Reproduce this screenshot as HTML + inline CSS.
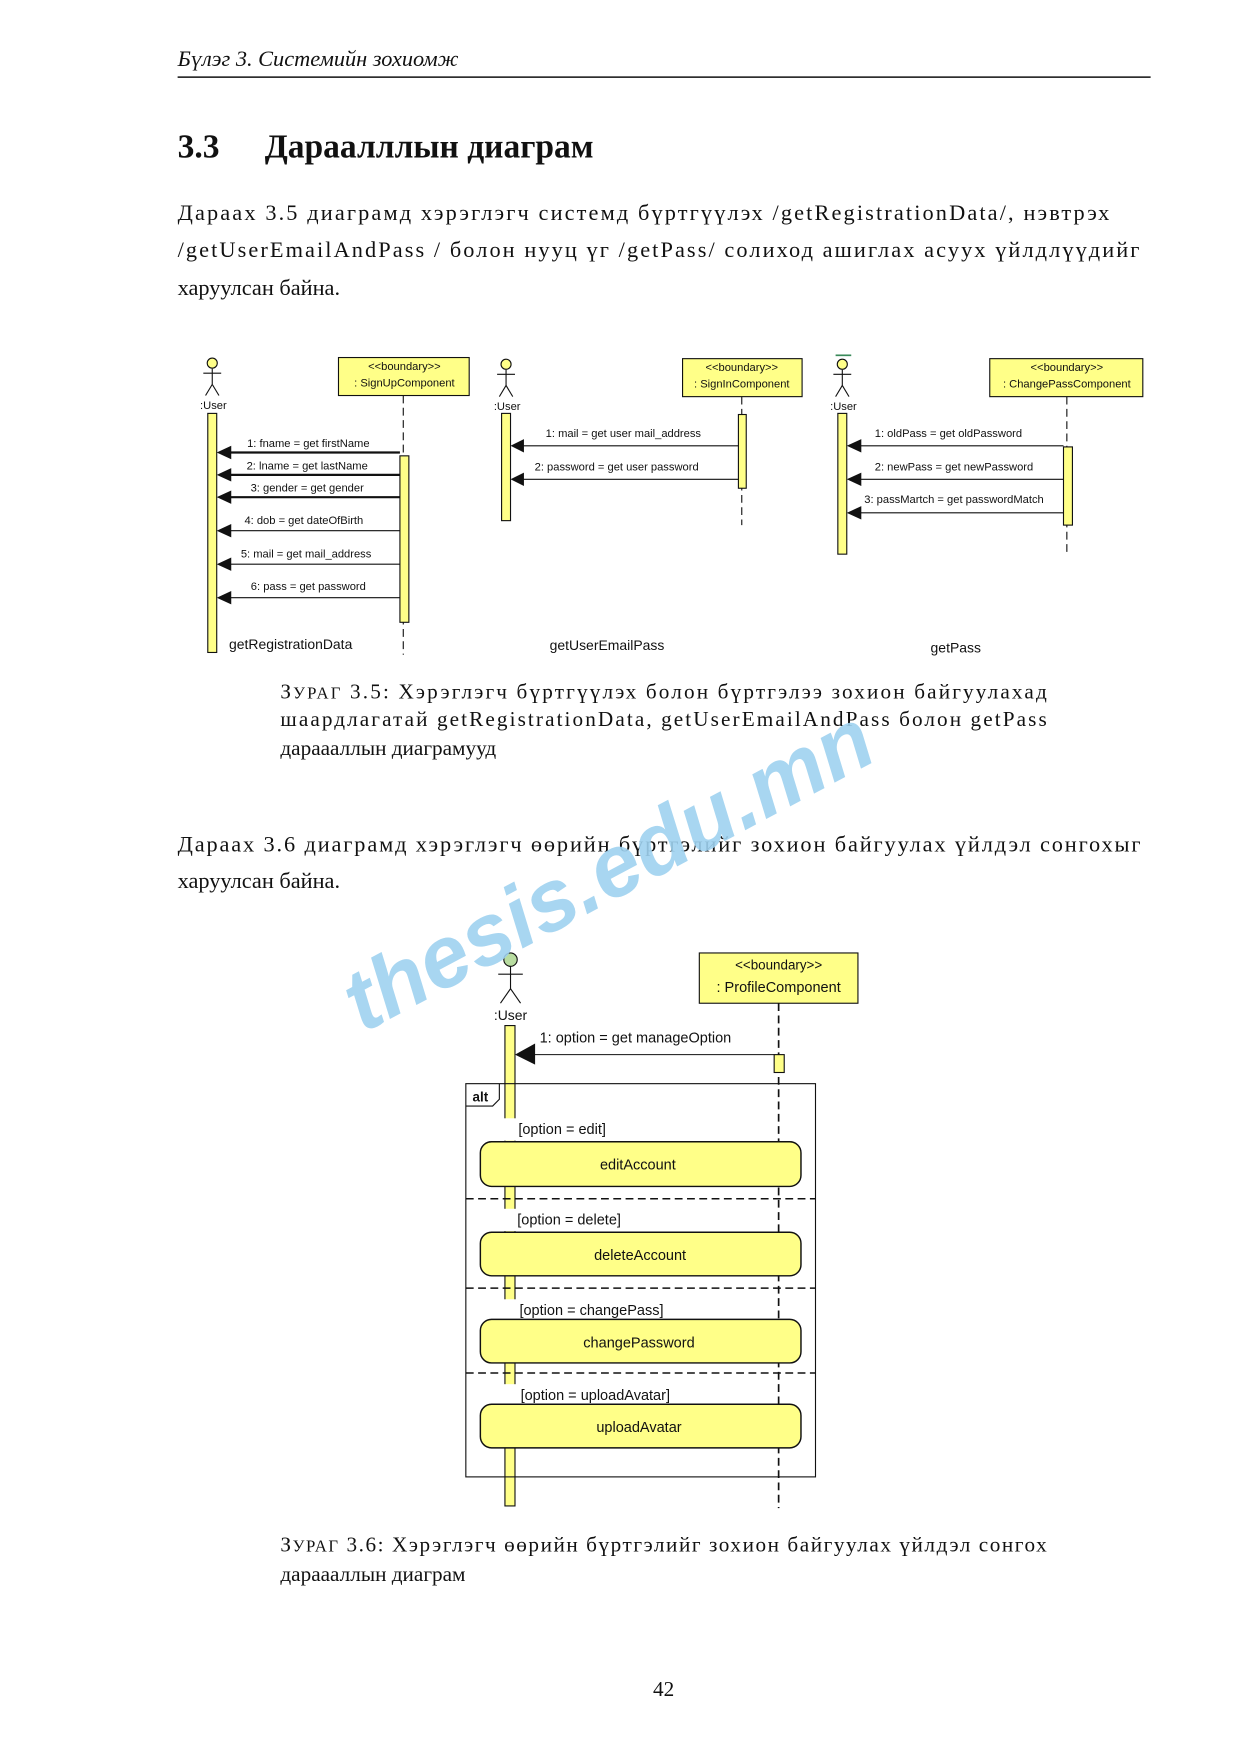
<!DOCTYPE html>
<html><head><meta charset="utf-8"><style>
html,body{margin:0;padding:0;background:#fff;}
svg{display:block;}
.s{font-family:"Liberation Serif","DejaVu Serif",serif;fill:#111;}
.a{font-family:"Liberation Sans","DejaVu Sans",sans-serif;fill:#111;}
</style></head><body>
<svg width="1240" height="1754" viewBox="0 0 1110 1570" xmlns="http://www.w3.org/2000/svg">
<rect width="1110" height="1570" fill="#fff"/>
<!-- header -->
<text class="s" x="159" y="59" font-size="20" font-style="italic">Бүлэг 3.  Системийн зохиомж</text>
<line x1="159" y1="69" x2="1030" y2="69" stroke="#111" stroke-width="1.3"/>
<text class="s" x="159" y="141" font-size="30" font-weight="bold">3.3</text>
<text class="s" x="237" y="141" font-size="30" font-weight="bold">Дараалллын диаграм</text>
<text class="s" x="159" y="197" font-size="20" textLength="834" lengthAdjust="spacing">Дараах  3.5 диаграмд хэрэглэгч системд бүртгүүлэх /getRegistrationData/, нэвтрэх</text>
<text class="s" x="159" y="230" font-size="20" textLength="861" lengthAdjust="spacing">/getUserEmailAndPass / болон нууц үг /getPass/ солиход ашиглах асуух үйлдлүүдийг</text>
<text class="s" x="159" y="264" font-size="20">харуулсан байна.</text>

<!-- Diagram 1 -->
<g stroke="#111" fill="none" stroke-width="1">
<circle cx="190" cy="325" r="4.5" fill="#ffff88"/>
<line x1="190" y1="330" x2="190" y2="344"/><line x1="182" y1="334" x2="198" y2="334"/>
<line x1="190" y1="344" x2="184" y2="354"/><line x1="190" y1="344" x2="196" y2="354"/>
<circle cx="453" cy="326" r="4.5" fill="#ffff88"/>
<line x1="453" y1="331" x2="453" y2="345"/><line x1="445" y1="335" x2="461" y2="335"/>
<line x1="453" y1="345" x2="447" y2="355"/><line x1="453" y1="345" x2="459" y2="355"/>
<circle cx="754" cy="326" r="4.5" fill="#ffff88"/>
<line x1="754" y1="331" x2="754" y2="345"/><line x1="746" y1="335" x2="762" y2="335"/>
<line x1="754" y1="345" x2="748" y2="355"/><line x1="754" y1="345" x2="760" y2="355"/>
</g>
<line x1="748" y1="318" x2="762" y2="318" stroke="#3a8a5a" stroke-width="1.5"/>
<text class="a" x="191" y="366" font-size="10" text-anchor="middle">:User</text>
<text class="a" x="454" y="367" font-size="10" text-anchor="middle">:User</text>
<text class="a" x="755" y="367" font-size="10" text-anchor="middle">:User</text>
<g stroke="#111" stroke-width="1" fill="#ffff88">
<rect x="303" y="320" width="117" height="34"/>
<rect x="611" y="321" width="107" height="34"/>
<rect x="886" y="321" width="137" height="34"/>
</g>
<g class="a" font-size="10" text-anchor="middle">
<text x="362" y="331">&lt;&lt;boundary&gt;&gt;</text><text x="362" y="346">: SignUpComponent</text>
<text x="664" y="332">&lt;&lt;boundary&gt;&gt;</text><text x="664" y="347">: SignInComponent</text>
<text x="955" y="332">&lt;&lt;boundary&gt;&gt;</text><text x="955" y="347">: ChangePassComponent</text>
</g>
<g stroke="#111" stroke-width="1" stroke-dasharray="7,4">
<line x1="361" y1="354" x2="361" y2="586"/>
<line x1="664" y1="355" x2="664" y2="470"/>
<line x1="955" y1="355" x2="955" y2="498"/>
</g>
<g stroke="#111" stroke-width="1" fill="#ffff88">
<rect x="186" y="370" width="8" height="214"/>
<rect x="358" y="408" width="8" height="149"/>
<rect x="449" y="370" width="8" height="96"/>
<rect x="661" y="371" width="7" height="66"/>
<rect x="750" y="370" width="8" height="126"/>
<rect x="952" y="400" width="8" height="70"/>
</g>
<g stroke="#111">
<line x1="358" y1="405" x2="200" y2="405" stroke-width="2"/>
<line x1="358" y1="425" x2="200" y2="425" stroke-width="2"/>
<line x1="358" y1="445" x2="200" y2="445" stroke-width="2"/>
<line x1="358" y1="475" x2="200" y2="475"/>
<line x1="358" y1="505" x2="200" y2="505"/>
<line x1="358" y1="535" x2="200" y2="535"/>
<line x1="661" y1="399" x2="462" y2="399"/>
<line x1="661" y1="429" x2="462" y2="429"/>
<line x1="952" y1="399" x2="764" y2="399"/>
<line x1="952" y1="429" x2="764" y2="429"/>
<line x1="952" y1="459" x2="764" y2="459"/>
</g>
<g fill="#111">
<path d="M194 405 L207 399 L207 411Z"/><path d="M194 425 L207 419 L207 431Z"/><path d="M194 445 L207 439 L207 451Z"/>
<path d="M194 475 L207 469 L207 481Z"/><path d="M194 505 L207 499 L207 511Z"/><path d="M194 535 L207 529 L207 541Z"/>
<path d="M457 399 L469 393 L469 405Z"/><path d="M457 429 L469 423 L469 435Z"/>
<path d="M758 399 L771 393 L771 405Z"/><path d="M758 429 L771 423 L771 435Z"/><path d="M758 459 L771 453 L771 465Z"/>
</g>
<g class="a" font-size="10" text-anchor="middle">
<text x="276" y="400">1: fname = get firstName</text>
<text x="275" y="420">2: lname = get lastName</text>
<text x="275" y="440">3: gender = get gender</text>
<text x="272" y="469">4: dob = get dateOfBirth</text>
<text x="274" y="499">5:  mail = get mail_address</text>
<text x="276" y="528">6: pass = get password</text>
<text x="558" y="391">1: mail = get user mail_address</text>
<text x="552" y="421">2: password = get user password</text>
<text x="849" y="391">1: oldPass = get oldPassword</text>
<text x="854" y="421">2: newPass = get newPassword</text>
<text x="854" y="450">3: passMartch = get passwordMatch</text>
</g>
<g class="a" font-size="12.5">
<text x="205" y="581">getRegistrationData</text>
<text x="492" y="582">getUserEmailPass</text>
<text x="833" y="584">getPass</text>
</g>

<!-- caption 1 -->
<text class="s" x="251" y="625" font-size="19" textLength="686" lengthAdjust="spacing">З<tspan font-size="15">УРАГ</tspan> 3.5: Хэрэглэгч бүртгүүлэх болон бүртгэлээ зохион байгуулахад</text>
<text class="s" x="251" y="650" font-size="19" textLength="686" lengthAdjust="spacing">шаардлагатай getRegistrationData, getUserEmailAndPass болон getPass</text>
<text class="s" x="251" y="676" font-size="19">дараааллын диаграмууд</text>

<text class="s" x="159" y="762" font-size="20" textLength="862" lengthAdjust="spacing">Дараах 3.6 диаграмд хэрэглэгч өөрийн бүртгэлийг зохион байгуулах үйлдэл сонгохыг</text>
<text class="s" x="159" y="795" font-size="20">харуулсан байна.</text>

<!-- Diagram 2 -->
<circle cx="457" cy="859" r="6" fill="#b8dca0" stroke="#111"/>
<g stroke="#111" fill="none">
<line x1="457" y1="865" x2="457" y2="885"/><line x1="446" y1="872" x2="468" y2="872"/>
<line x1="457" y1="885" x2="448" y2="898"/><line x1="457" y1="885" x2="466" y2="898"/>
</g>
<text class="a" x="457" y="913" font-size="12.5" text-anchor="middle">:User</text>
<rect x="626" y="853" width="142" height="45" fill="#ffff88" stroke="#111"/>
<text class="a" x="697" y="868" font-size="12" text-anchor="middle">&lt;&lt;boundary&gt;&gt;</text>
<text class="a" x="697" y="888" font-size="13" text-anchor="middle">: ProfileComponent</text>
<line x1="697" y1="898" x2="697" y2="1350" stroke="#111" stroke-width="1.5" stroke-dasharray="7,4"/>
<rect x="452" y="918" width="9" height="430" fill="#ffff88" stroke="#111"/>
<rect x="693" y="944" width="9" height="16" fill="#ffff88" stroke="#111"/>
<line x1="693" y1="944" x2="470" y2="944" stroke="#111"/>
<path d="M461 944 L479 934 L479 953Z" fill="#111"/>
<text class="a" x="483" y="933" font-size="13">1: option = get manageOption</text>
<rect x="417" y="970" width="313" height="352" fill="none" stroke="#111"/>
<path d="M417 990 L441 990 L447 984 L447 970" fill="none" stroke="#111"/>
<text class="a" x="423" y="986" font-size="12" font-weight="bold">alt</text>
<g stroke="#111" stroke-width="1.3" stroke-dasharray="7,4">
<line x1="417" y1="1073" x2="730" y2="1073"/>
<line x1="417" y1="1153" x2="730" y2="1153"/>
<line x1="417" y1="1229" x2="730" y2="1229"/>
</g>
<g fill="#fff">
<rect x="451" y="1001" width="12" height="20"/><rect x="451" y="1082" width="12" height="20"/>
<rect x="451" y="1163" width="12" height="18"/><rect x="451" y="1239" width="12" height="18"/>
</g>
<g class="a" font-size="13">
<text x="464" y="1015">[option = edit]</text>
<text x="463" y="1096">[option = delete]</text>
<text x="465" y="1177">[option = changePass]</text>
<text x="466" y="1253">[option = uploadAvatar]</text>
</g>
<g fill="#ffff88" stroke="#111" stroke-width="1.3">
<rect x="430" y="1022" width="287" height="40" rx="10"/>
<rect x="430" y="1103" width="287" height="39" rx="10"/>
<rect x="430" y="1181" width="287" height="39" rx="10"/>
<rect x="430" y="1257" width="287" height="39" rx="10"/>
</g>
<g class="a" font-size="13" text-anchor="middle">
<text x="571" y="1047">editAccount</text>
<text x="573" y="1128">deleteAccount</text>
<text x="572" y="1206">changePassword</text>
<text x="572" y="1282">uploadAvatar</text>
</g>

<!-- caption 2 -->
<text class="s" x="251" y="1389" font-size="19" textLength="686" lengthAdjust="spacing">З<tspan font-size="15">УРАГ</tspan> 3.6: Хэрэглэгч өөрийн бүртгэлийг зохион байгуулах үйлдэл сонгох</text>
<text class="s" x="251" y="1415" font-size="19">дараааллын диаграм</text>
<text class="s" x="594" y="1518" font-size="19" text-anchor="middle">42</text>

<!-- watermark -->
<text x="0" y="0" transform="translate(325,925) rotate(-28)" font-family="Liberation Sans, sans-serif" font-size="78" font-weight="bold" font-style="italic" fill="#9fd2ef" fill-opacity="0.9">thesis.edu.mn</text>
</svg>
</body></html>
